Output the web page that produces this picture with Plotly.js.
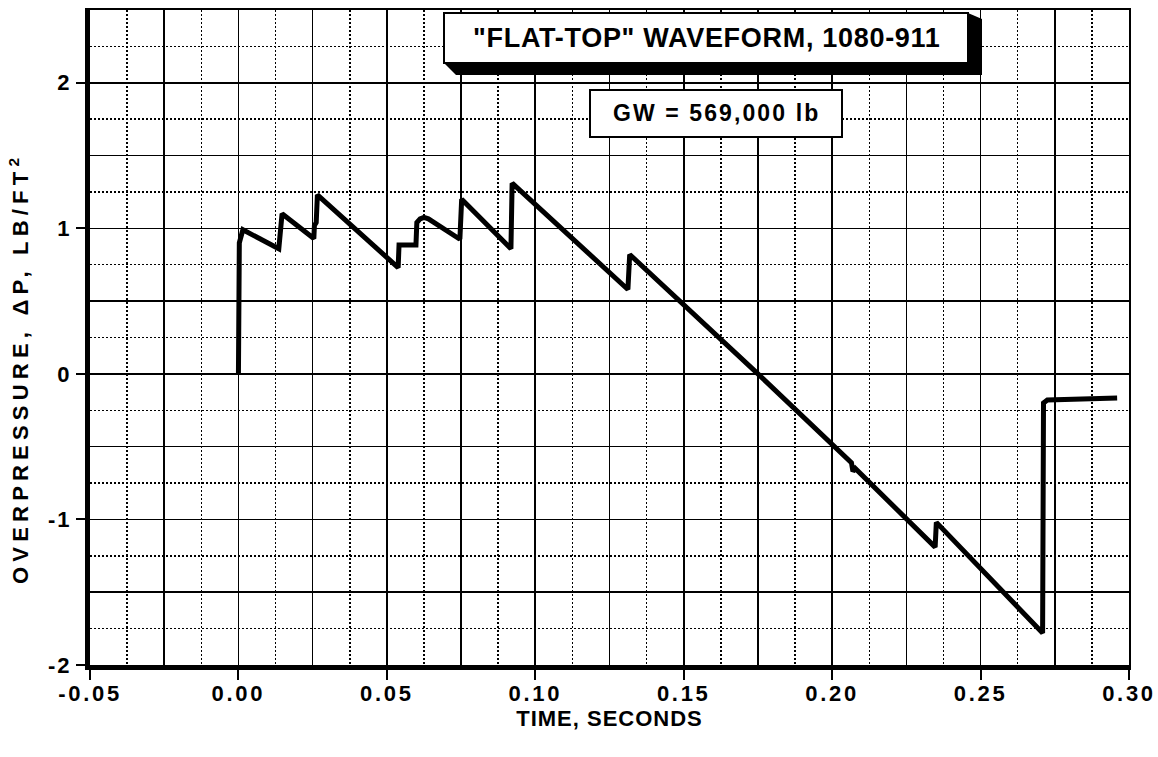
<!DOCTYPE html>
<html><head><meta charset="utf-8">
<script src="https://cdn.plot.ly/plotly-3.0.1.min.js"></script>
<style>
html,body{margin:0;padding:0;background:#fff;}
#chart{width:1158px;height:757px;}
#chart .xtick text{letter-spacing:2.7px;}
#chart .ytick text{letter-spacing:2px;}
</style></head><body><div id="chart"></div>
<script>
// ---- data ----
const timeSec = [0.0, 0.0003, 0.0015, 0.0136, 0.0147, 0.0254, 0.0256, 0.0262, 0.0266, 0.0538, 0.0541, 0.0598, 0.0601, 0.0612, 0.0625, 0.0640, 0.0746, 0.0752, 0.0918, 0.0922, 0.1312, 0.1318, 0.1750, 0.2065, 0.2070, 0.2078, 0.2347, 0.2351, 0.2709, 0.2712, 0.2725, 0.2960];
const overpressure = [0.0, 0.90, 0.99, 0.86, 1.10, 0.93, 1.02, 1.04, 1.23, 0.73, 0.885, 0.885, 1.04, 1.065, 1.075, 1.065, 0.925, 1.20, 0.86, 1.31, 0.58, 0.82, 0.0, -0.61, -0.67, -0.65, -1.19, -1.02, -1.78, -0.20, -0.18, -0.165];
const xTickVals = [-0.05, 0.00, 0.05, 0.10, 0.15, 0.20, 0.25, 0.30];
const xTickText = ["-0.05", "0.00", "0.05", "0.10", "0.15", "0.20", "0.25", "0.30"];
const yTickVals = [-2, -1, 0, 1, 2];
const yTickText = ["-2", "-1", "0", "1", "2"];
const titleText = '"FLAT-TOP" WAVEFORM, 1080-911';
const gwText = 'GW = 569,000 lb';
const xTitleText = 'TIME, SECONDS';
const yTitleText = 'OVERPRESSURE, \u0394P, LB/FT<sup>2</sup>';

// ---- layout helpers ----
const FONT = "'Liberation Sans', Arial, sans-serif";
const L = 90, R = 1129, T = 10, B = 665;
const W = 1158, H = 757;
const px = x => (x - L) / (R - L);
const py = y => (B - y) / (B - T);
const sp = (s, ls) => '<span style="letter-spacing:' + ls + 'px">' + s + '</span>';

const xRange = [-0.05, 0.30];
const yRange = [-2, 2.5];
const DOT = '1.5px,2.5px';

const traces = [
  {x: timeSec, y: overpressure, xaxis: 'x2', yaxis: 'y2', mode: 'lines',
   line: {color: 'rgba(0,0,0,0)', width: 1}, hoverinfo: 'skip', showlegend: false},
  {x: timeSec, y: overpressure, xaxis: 'x', yaxis: 'y', mode: 'lines',
   line: {color: '#000', width: 5}, showlegend: false}
];

const shadowPath = 'M' + px(444) + ',' + py(63) + ' L' + px(456) + ',' + py(75) +
  ' L' + px(982) + ',' + py(75) + ' L' + px(982) + ',' + py(19) + ' L' + px(968) + ',' + py(13) + ' Z';

const layout = {
  width: W, height: H,
  margin: {l: L, r: W - R, t: T, b: H - B},
  paper_bgcolor: '#fff', plot_bgcolor: '#fff',
  showlegend: false,
  font: {family: FONT, color: '#000', weight: 'bold'},
  xaxis: {
    range: xRange, tickmode: 'array', tickvals: xTickVals, ticktext: xTickText,
    ticks: 'outside', ticklen: 10, tickwidth: 2, tickcolor: '#000', ticklabelstandoff: -5,
    tickfont: {family: FONT, size: 22, weight: 'bold', color: '#000'},
    showgrid: true, gridcolor: '#000', gridwidth: 1.6,
    minor: {tickmode: 'linear', tick0: 0, dtick: 0.025, showgrid: true, gridcolor: '#000', gridwidth: 1.6, ticks: ''},
    showline: true, linecolor: '#000', linewidth: 5, zeroline: false, mirror: false,
    title: {text: sp(xTitleText, 1), font: {family: FONT, size: 22, weight: 'bold', color: '#000'}, standoff: 4}
  },
  yaxis: {
    range: yRange, tickmode: 'array', tickvals: yTickVals, ticktext: yTickText,
    ticks: 'outside', ticklen: 9, tickwidth: 2, tickcolor: '#000',
    tickfont: {family: FONT, size: 22, weight: 'bold', color: '#000'},
    showgrid: true, gridcolor: '#000', gridwidth: 1.6,
    minor: {tickmode: 'linear', tick0: 0, dtick: 0.5, showgrid: true, gridcolor: '#000', gridwidth: 1.6, ticks: ''},
    showline: true, linecolor: '#000', linewidth: 5, zeroline: false, mirror: false
  },
  xaxis2: {
    overlaying: 'x', side: 'top', anchor: 'y', range: xRange,
    tickmode: 'linear', tick0: -0.0375, dtick: 0.025,
    showgrid: true, griddash: DOT, gridcolor: '#000', gridwidth: 1.5,
    showticklabels: false, ticks: '', showline: true, linecolor: '#000', linewidth: 2, zeroline: false
  },
  yaxis2: {
    overlaying: 'y', side: 'right', anchor: 'x', range: yRange,
    tickmode: 'linear', tick0: -1.75, dtick: 0.5,
    showgrid: true, griddash: DOT, gridcolor: '#000', gridwidth: 1.5,
    showticklabels: false, ticks: '', showline: true, linecolor: '#000', linewidth: 2, zeroline: false
  },
  shapes: [
    {type: 'path', xref: 'paper', yref: 'paper', path: shadowPath, fillcolor: '#000', line: {width: 0}, layer: 'above'},
    {type: 'rect', xref: 'paper', yref: 'paper', x0: px(444), x1: px(968), y0: py(63), y1: py(13),
     fillcolor: '#fff', line: {color: '#000', width: 2}, layer: 'above'},
    {type: 'rect', xref: 'paper', yref: 'paper', x0: px(590), x1: px(842), y0: py(137), y1: py(90),
     fillcolor: '#fff', line: {color: '#000', width: 2}, layer: 'above'}
  ],
  annotations: [
    {xref: 'paper', yref: 'paper', x: px(707), y: py(38), xanchor: 'center', yanchor: 'middle', showarrow: false,
     text: sp(titleText, 0.7), font: {family: FONT, size: 27, weight: 'bold', color: '#000'}},
    {xref: 'paper', yref: 'paper', x: px(716), y: py(113), xanchor: 'center', yanchor: 'middle', showarrow: false,
     text: sp(gwText, 2.1), font: {family: FONT, size: 23, weight: 'bold', color: '#000'}},
    {xref: 'paper', yref: 'paper', x: px(19), y: py(369), xanchor: 'center', yanchor: 'middle', showarrow: false,
     textangle: -90, text: sp(yTitleText, 5.2), font: {family: FONT, size: 22, weight: 'bold', color: '#000'}}
  ]
};

Plotly.newPlot('chart', traces, layout, {staticPlot: true, displayModeBar: false});
</script></body></html>
